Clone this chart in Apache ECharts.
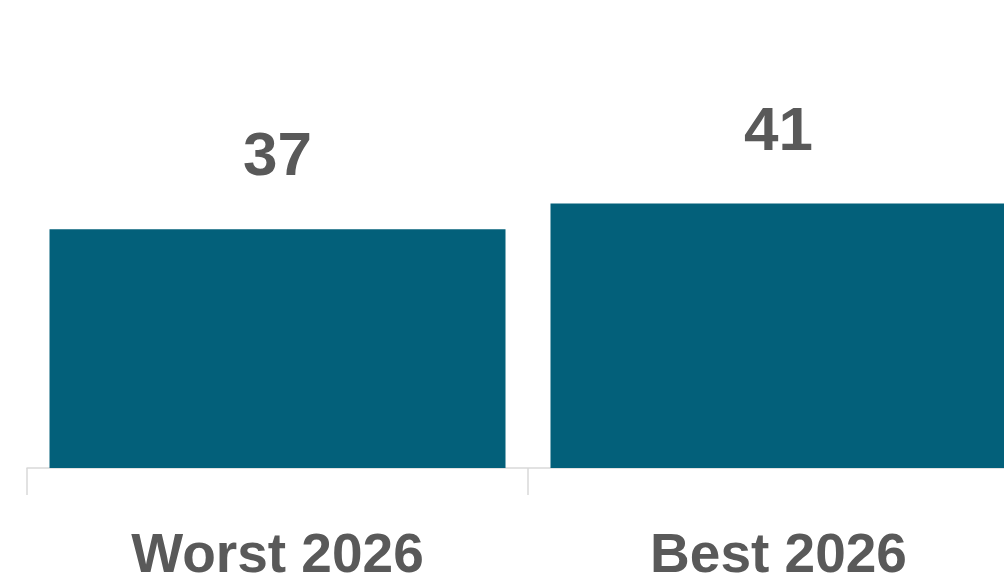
<!DOCTYPE html>
<html>
<head>
<meta charset="utf-8">
<script src="https://cdn.jsdelivr.net/npm/echarts@6/dist/echarts.min.js"></script>
<style>
html,body{margin:0;padding:0;background:#fff;}
#chart{width:1004px;height:577px;}
</style>
</head>
<body>
<div id="chart"></div>
<script>
const categories = ['Worst 2026', 'Best 2026'];
const values = [37, 41];

const chart = echarts.init(document.getElementById('chart'));
chart.setOption({
  animation: false,
  grid: { left: 27, width: 1002, top: 81, height: 387, containLabel: false, outerBoundsMode: 'none' },
  xAxis: {
    type: 'category',
    data: categories,
    axisLine: { show: true, lineStyle: { color: '#d9d9d9', width: 1.5 } },
    axisTick: { show: true, length: 27, lineStyle: { color: '#d9d9d9', width: 1.5 } },
    axisLabel: {
      color: '#595959', fontFamily: 'Liberation Sans, Arial, sans-serif',
      fontWeight: 'bold', fontSize: 55, margin: 61
    }
  },
  yAxis: { type: 'value', min: 0, max: 60, show: false, splitLine: { show: false } },
  series: [{
    type: 'bar',
    data: values,
    barWidth: 456,
    itemStyle: { color: '#03607A' },
    label: {
      show: true, position: 'top', distance: 40,
      color: '#595959', fontFamily: 'Liberation Sans, Arial, sans-serif',
      fontWeight: 'bold', fontSize: 62
    }
  }]
});
</script>
</body>
</html>
